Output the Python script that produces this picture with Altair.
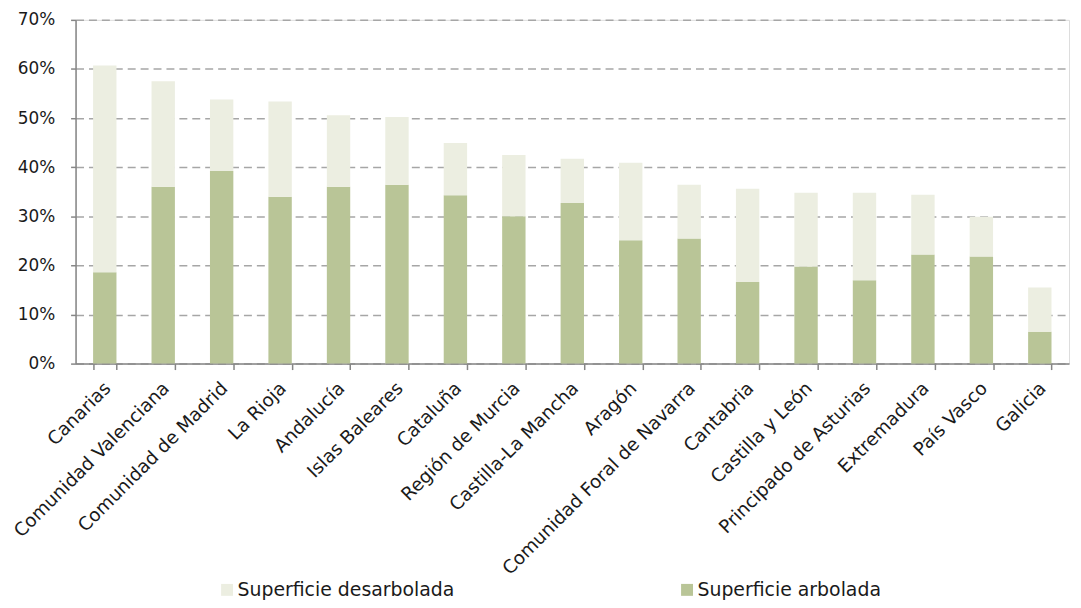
import altair as alt
import pandas as pd

regiones = ["Canarias", "Comunidad Valenciana", "Comunidad de Madrid", "La Rioja",
            "Andalucía", "Islas Baleares", "Cataluña", "Región de Murcia",
            "Castilla-La Mancha", "Aragón", "Comunidad Foral de Navarra", "Cantabria",
            "Castilla y León", "Principado de Asturias", "Extremadura", "País Vasco", "Galicia"]
arbolada = [18.6, 36.0, 39.2, 34.0, 36.0, 36.4, 34.3, 30.0, 32.7, 25.1, 25.5, 16.6,
            19.8, 17.0, 22.2, 21.8, 6.5]
desarbolada = [42.1, 21.5, 14.6, 19.4, 14.6, 13.8, 10.6, 12.5, 9.0, 15.8, 10.9, 19.0,
               15.0, 17.8, 12.2, 8.1, 9.0]
series = ["Superficie desarbolada", "Superficie arbolada"]
colores = ["#eceee1", "#b9c597"]

rows = []
for i, r in enumerate(regiones):
    rows.append({"region": r, "serie": series[1], "valor": arbolada[i] / 100, "orden": 0})
    rows.append({"region": r, "serie": series[0], "valor": desarbolada[i] / 100, "orden": 1})
df = pd.DataFrame(rows)

font = "DejaVu Sans"

chart = alt.Chart(df).mark_bar().encode(
    x=alt.X("region:N", sort=regiones, title=None,
            scale=alt.Scale(paddingInner=0.6, paddingOuter=0.3),
            axis=alt.Axis(labelAngle=-45, labelFontSize=18.5, labelFont=font,
                          labelColor="#1a1a1a", tickBand="extent", tickSize=6,
                          tickColor="#868686", domainColor="#868686", domainWidth=1.5,
                          tickWidth=1.5, labelPadding=9, labelOffset=-4,
                          grid=False, labelLimit=400)),
    y=alt.Y("valor:Q", stack="zero", title=None,
            scale=alt.Scale(domain=[0, 0.7], nice=False),
            axis=alt.Axis(format=".0%", values=[0, 0.1, 0.2, 0.3, 0.4, 0.5, 0.6, 0.7],
                          labelFontSize=17, labelFont=font, labelColor="#1a1a1a",
                          tickSize=5, tickColor="#868686", tickWidth=1.5,
                          domainColor="#868686", domainWidth=1.5, labelPadding=16,
                          grid=True, gridColor="#a6a6a6", gridDash=[8, 5], gridWidth=1.5)),
    color=alt.Color("serie:N", sort=series,
                    scale=alt.Scale(domain=series, range=colores),
                    legend=alt.Legend(title=None, orient="none", direction="horizontal",
                                      legendX=143, legendY=564, symbolType="square",
                                      symbolSize=144, symbolStrokeWidth=0,
                                      labelFontSize=19, labelFont=font, labelColor="#1a1a1a",
                                      labelOffset=1, columnPadding=224, labelLimit=400)),
    order=alt.Order("orden:Q"),
).properties(
    width=1000, height=346,
    autosize=alt.AutoSizeParams(type="none"),
    padding={"left": 68, "top": 10, "right": 4, "bottom": 236},
).configure_view(stroke=None).configure(background="white")

chart.save("out.html", embed_options={"renderer": "svg", "actions": False})
